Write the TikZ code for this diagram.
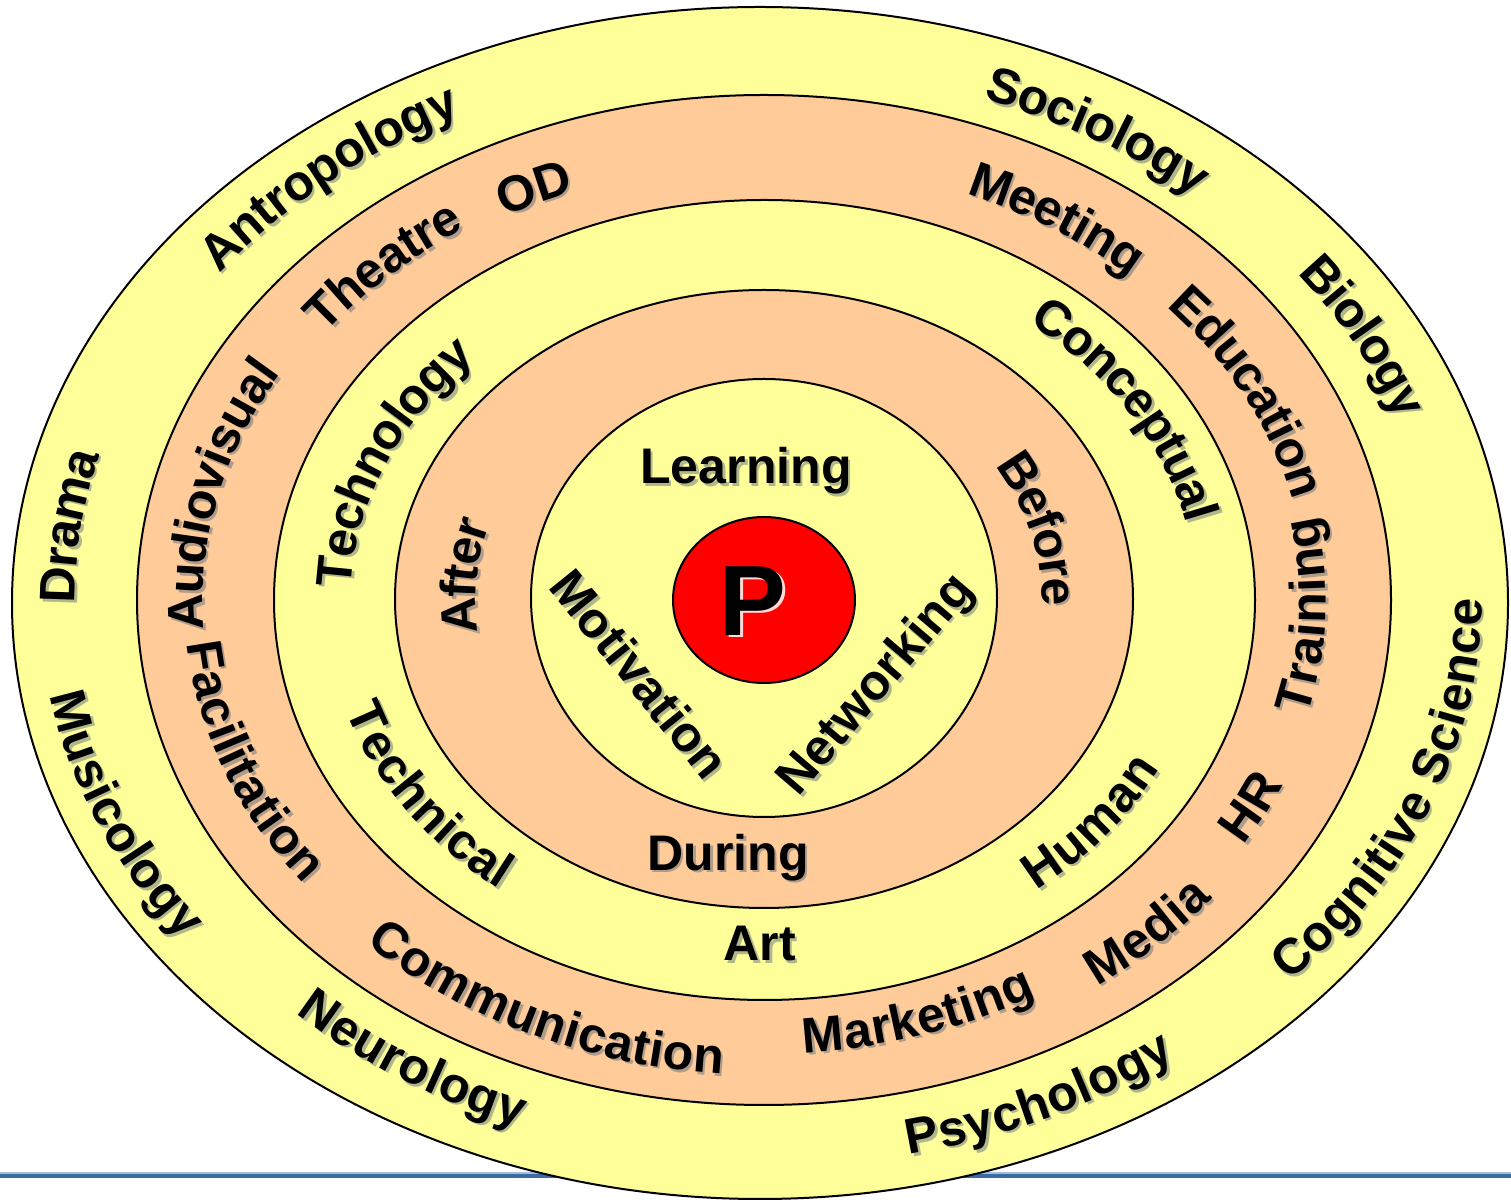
\documentclass[tikz,border=0pt]{standalone}
\usepackage{fontspec}
\setmainfont{Liberation Sans}
\usetikzlibrary{decorations.text}

\definecolor{ringyellow}{HTML}{FFFF99}
\definecolor{ringorange}{HTML}{FFCC99}
\definecolor{corered}{HTML}{FF0000}
\definecolor{rulecolor}{HTML}{3A6CA3}
\definecolor{txtshadow}{HTML}{52627A}

\newcommand\lblfont{\fontsize{25}{30}\selectfont\bfseries}

% curved label along an ellipse centred on (O):
% #1 x radius, #2 y radius, #3 centre angle, #4 direction (1 = ccw, -1 = cw), #5 half span, #6 text
\newcommand\ringlabel[6]{%
  \begin{scope}[opacity=0.45]
    \path[decorate, decoration={text along path, text align=center, raise=-7.5pt,
        text={|\lblfont\color{txtshadow}|#6}}]
      ([shift={({#3-#4*#5}:#1 and #2)}]Oshadow)
      arc[start angle={#3-#4*#5}, end angle={#3+#4*#5}, x radius=#1, y radius=#2];
  \end{scope}
  \path[decorate, decoration={text along path, text align=center, raise=-7.5pt,
      text={|\lblfont|#6}}]
    ([shift={({#3-#4*#5}:#1 and #2)}]O)
    arc[start angle={#3-#4*#5}, end angle={#3+#4*#5}, x radius=#1, y radius=#2];
}

% straight label with its drop shadow: #1 name, #2 x, #3 y, #4 rotation, #5 text
\newcommand\flatlabel[5]{%
  \node[flat, text=txtshadow, opacity=0.45, rotate=#4] (#1-shadow) at (#2+2.5,#3-2.5) {#5};
  \node[flat, rotate=#4] (#1) at (#2,#3) {#5};
}

\tikzset{
  ring/.style={draw=black, line width=1pt},
  flat/.style={inner sep=0pt, font=\lblfont, text=black},
  bigletter/.style={inner sep=0pt, font=\fontsize{50}{60}\selectfont\bfseries},
}

\begin{document}
\begin{tikzpicture}[x=0.5pt, y=0.5pt]
  \useasboundingbox (0,0) rectangle (1511,1200);
  \fill[white] (0,0) rectangle (1511,1200);

  \coordinate (O) at (763,600);
  \coordinate (Oshadow) at (765.5,597.5);

  % rule across the page, behind the rings
  \coordinate (ruleL) at (0,24);
  \coordinate (ruleR) at (1511,24);
  \draw[rulecolor!45, line width=2.6pt] ([yshift=0.6pt]ruleL) -- ([yshift=0.6pt]ruleR);
  \draw[rulecolor, line width=2pt] (ruleL) -- (ruleR);

  % concentric rings
  \filldraw[ring, fill=ringyellow] (760,597) ellipse [x radius=748, y radius=596];
  \filldraw[ring, fill=ringorange] (764,600) ellipse [x radius=627, y radius=505];
  \filldraw[ring, fill=ringyellow] (764.5,600) ellipse [x radius=490.5, y radius=400];
  \filldraw[ring, fill=ringorange] (764,601) ellipse [x radius=369, y radius=309];
  \filldraw[ring, fill=ringyellow] (764,602) ellipse [x radius=233, y radius=219];
  \filldraw[ring, fill=corered] (764,600) ellipse [x radius=91, y radius=83];

  % centre letter
  \node[bigletter, text=white, opacity=0.85] (Pshadow) at (755.4,596.7) {P};
  \node[bigletter, text=black] (P) at (752.4,599.2) {P};

  % outer ring
  \ringlabel{696}{557}{131.2}{-1}{35}{Antropology}
  \ringlabel{681}{546}{58.7}{-1}{35}{Sociology}
  \ringlabel{689}{551}{27}{-1}{35}{Biology}
  \ringlabel{703}{562}{173}{-1}{35}{Drama}
  \ringlabel{704}{545}{-20.3}{1}{35}{Cognitive Science}
  \ringlabel{685}{552}{-64.6}{1}{35}{Psychology}
  \ringlabel{674}{548}{236.7}{1}{35}{Neurology}
  \ringlabel{708}{555}{201.5}{1}{35}{Musicology}

  % second ring
  \ringlabel{564}{457}{135}{-1}{40}{Theatre}
  \ringlabel{557}{451}{116}{-1}{40}{OD}
  \ringlabel{560}{453}{56}{-1}{40}{Meeting}
  \ringlabel{559}{453}{26}{-1}{40}{Education}
  \ringlabel{575}{460}{167.5}{-1}{40}{Audiovisual}
  \ringlabel{548}{440}{-1.9}{1}{40}{Training}
  \ringlabel{564}{450}{199.8}{1}{40}{Facilitation}
  \ringlabel{552}{447}{-25.5}{1}{40}{HR}
  \ringlabel{565}{457}{-44.5}{1}{40}{Media}
  \ringlabel{542}{439}{-72}{1}{40}{Marketing}
  \ringlabel{559}{460}{244.8}{1}{40}{Communication}

  % third ring
  \ringlabel{427}{351}{157.5}{-1}{45}{Technology}
  \ringlabel{449}{365}{30.5}{-1}{45}{Conceptual}
  \ringlabel{423}{347}{213}{1}{45}{Technical}
  \ringlabel{432}{352}{-37}{1}{45}{Human}
  \flatlabel{art}{760}{256}{0}{Art}

  % fourth ring
  \ringlabel{302}{263}{175.2}{-1}{55}{After}
  \ringlabel{294}{256}{15}{-1}{55}{Before}
  \flatlabel{during}{728}{342.6}{0}{During}

  % inner ring
  \flatlabel{learning}{746}{729.3}{0}{Learning}
  \flatlabel{motivation}{640}{526}{-51.2}{Motivation}
  \flatlabel{networking}{877}{514}{49.6}{Networking}
\end{tikzpicture}
\end{document}
